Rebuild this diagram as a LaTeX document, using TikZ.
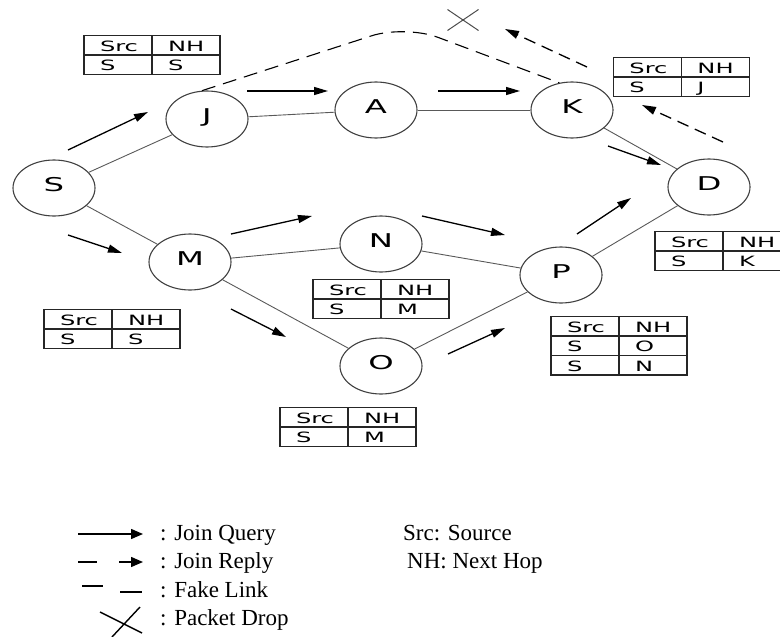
\documentclass[tikz,border=0pt]{standalone}
\usepackage{fontspec}
\setmainfont{Liberation Serif}
\newfontfamily\widesans[FakeStretch=1.7]{DejaVu Sans}
\usetikzlibrary{arrows.meta,positioning,shapes.geometric,shapes.misc,calc,matrix}
\tikzset{
  rnode/.style ={draw=black!75, line width=1.1pt, ellipse, minimum width=82pt,
                 minimum height=56pt, inner sep=0pt, text height=14pt, text depth=7pt,
                 font={\widesans\fontsize{19}{22}\selectfont}},
  rlink/.style ={draw=black!65, line width=0.9pt},
  rquery/.style={-{Triangle[length=14pt,width=8pt]}, line width=1.3pt},
  rreply/.style={rquery, dash pattern=on 12pt off 7pt},
  rfake/.style ={line width=1.1pt, dash pattern=on 14pt off 8pt},
  rtab/.style  ={matrix of nodes, column sep=-1.4pt, row sep=-1.4pt, inner sep=0pt,
                 nodes={draw=black!85, line width=1.4pt, text width=68pt, inner xsep=0pt,
                        align=left, minimum height=19.5pt, text height=12pt, text depth=0pt,
                        font={\widesans\fontsize{14.2}{16}\selectfont},
                        execute at begin node=\hspace*{16pt}}},
  rleg/.style  ={inner sep=0pt, font={\fontsize{23}{28}\selectfont}},
  legq/.style  ={-{Triangle[length=12pt,width=10pt]}, line width=1.5pt},
}
\begin{document}
\begin{tikzpicture}[x=1pt, y=-1pt]
\useasboundingbox (0,0) rectangle (780,637);

% routers
\node[rnode] (S) at (54,188) {S};
\node[rnode] (J) at (207,119) {J};
\node[rnode] (A) at (376,110) {A};
\node[rnode] (K) at (572,110) {K};
\node[rnode] (D) at (709,187) {D};
\node[rnode] (M) at (190,262) {M};
\node[rnode] (N) at (381,244) {N};
\node[rnode] (O) at (381,366) {O};
\node[rnode] (P) at (561,275) {P};

\draw[rlink] (S) -- (J);
\draw[rlink] (J) -- (A);
\draw[rlink] (A) -- (K);
\draw[rlink] (K) -- (D);
\draw[rlink] (S) -- (M);
\draw[rlink] (M) -- (N);
\draw[rlink] (M) -- (O);
\draw[rlink] (N) -- (P);
\draw[rlink] (O) -- (P);
\draw[rlink] (P) -- (D);

% fake link J -- K and the dropped reply
\coordinate (peak) at (405,25);
\draw[rfake, rounded corners=35pt] (J.100) -- (peak) -- (K.115);
\node[draw=black!70, cross out, line width=1pt, minimum width=30pt, minimum height=20pt,
      inner sep=0pt] (drop) at (463,20) {};

% join query
\draw[rquery] ($(S)+(14,-38)$) -- ($(S)+(94,-76)$);
\draw[rquery] ($(J)+(40,-28)$) -- ($(J)+(121,-28)$);
\draw[rquery] ($(A)+(62,-19)$) -- ($(A)+(144,-19)$);
\draw[rquery] ($(K)+(36,36)$) -- ($(K)+(89,55)$);
\draw[rquery] ($(S)+(14,47)$) -- ($(S)+(68,65)$);
\draw[rquery] ($(M)+(41,-28)$) -- ($(M)+(122,-46)$);
\draw[rquery] ($(M)+(41,47)$) -- ($(M)+(96,75)$);
\draw[rquery] ($(N)+(41,-28)$) -- ($(N)+(124,-9)$);
\draw[rquery] ($(O)+(67,-12)$) -- ($(O)+(124,-38)$);
\draw[rquery] ($(P)+(16,-41)$) -- ($(P)+(70,-77)$);

% join reply
\draw[rreply] ($(D)+(14,-45)$) -- ($(D)+(-67,-82)$);
\draw[rreply] ($(K)+(15,-43)$) -- ($(K)+(-67,-81)$);

% routing tables
\matrix[rtab, above=15pt of J, xshift=-55pt] (tJ) {Src & NH\\ S & S\\};
\matrix[rtab, right=-1pt of K, yshift=33pt] (tK) {Src & NH\\ S & J\\};
\matrix[rtab, below=15pt of D, xshift=14pt] (tD) {Src & NH\\ S & K\\};
\matrix[rtab, below=18pt of M, xshift=-78pt] (tM) {Src & NH\\ S & S\\};
\matrix[rtab, below=6pt of N] (tN) {Src & NH\\ S & M\\};
\matrix[rtab, below=12pt of O, xshift=-33pt] (tO) {Src & NH\\ S & M\\};
\matrix[rtab, below=12pt of P, xshift=58pt] (tP) {Src & NH\\ S & O\\ S & N\\};

% legend
\node[rleg, anchor=base west] (lq) at (160,540) {: Join Query};
\node[rleg, anchor=base west] (lr) at (160,568) {: Join Reply};
\node[rleg, anchor=base west] (lf) at (160,597) {: Fake Link};
\node[rleg, anchor=base west] (lp) at (160,625) {: Packet Drop};
\node[rleg, anchor=base west] (ls) at (403,540) {Src: Source};
\node[rleg, anchor=base west] (lh) at (407,568) {NH: Next Hop};

\draw[legq] ([shift={(-82,-6)}]lq.base west) -- ([shift={(-17,-6)}]lq.base west);
\draw[legq, dash pattern=on 19pt off 22pt]
  ([shift={(-82,-6)}]lr.base west) -- ([shift={(-17,-6)}]lr.base west);
\draw[line width=1.5pt] ([shift={(-78,-11)}]lf.base west) -- ++(21,0)
  ([shift={(-40,-5)}]lf.base west) -- ++(22,0);
\draw[line width=1.4pt] ([shift={(-60,-13)}]lp.base west) -- ([shift={(-18,8)}]lp.base west)
  ([shift={(-20,-18)}]lp.base west) -- ([shift={(-48,12)}]lp.base west);

\end{tikzpicture}
\end{document}
